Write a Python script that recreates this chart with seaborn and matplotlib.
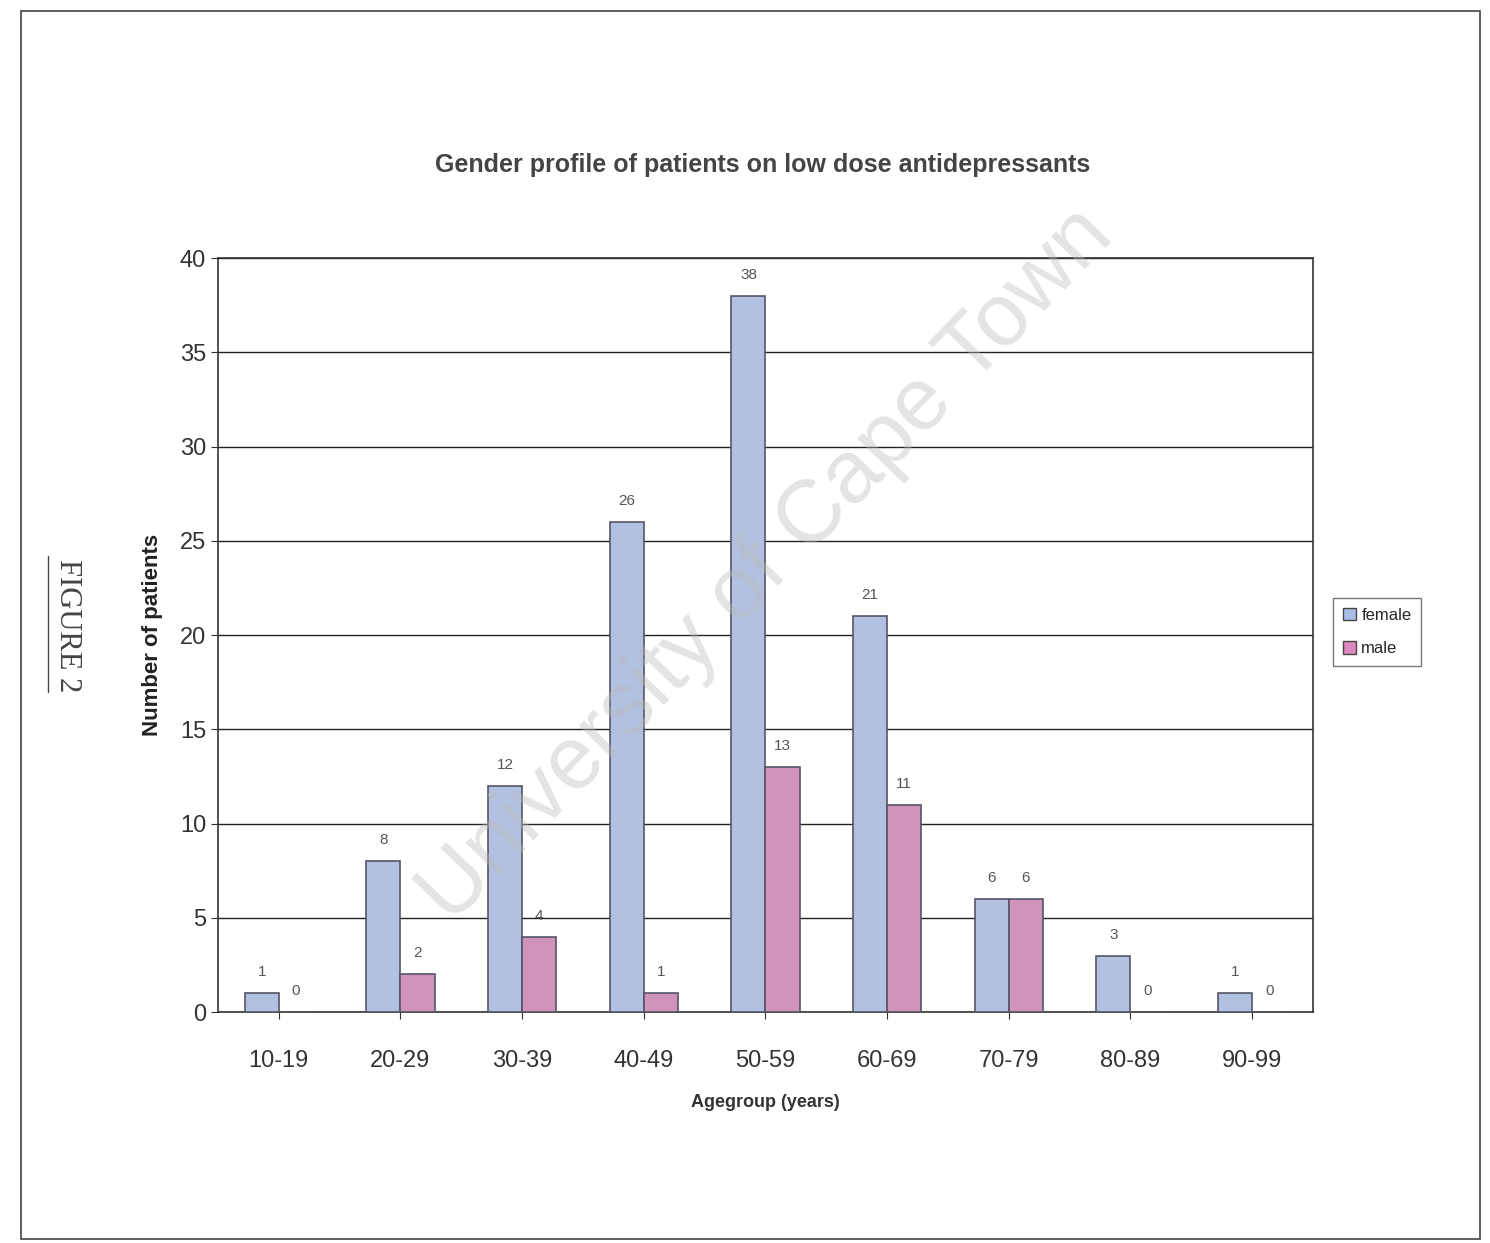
import matplotlib
matplotlib.use("Agg")
import matplotlib.pyplot as plt
import seaborn as sns
import pandas as pd
from matplotlib.patches import Rectangle, Patch

age_groups = ["10-19", "20-29", "30-39", "40-49", "50-59", "60-69", "70-79", "80-89", "90-99"]
female = [1, 8, 12, 26, 38, 21, 6, 3, 1]
male = [0, 2, 4, 1, 13, 11, 6, 0, 0]
series = ["female", "male"]
colors = ["#aabde9", "#db88c0"]

df = pd.DataFrame({
    "Agegroup": age_groups * 2,
    "count": female + male,
    "gender": ["female"] * len(age_groups) + ["male"] * len(age_groups),
})

sns.set_style("white")
plt.rcParams["font.family"] = ["Liberation Sans", "DejaVu Sans"]

fig = plt.figure(figsize=(14.9, 12.43), dpi=100)
ax = fig.add_axes([0.1463, 0.1858, 0.7349, 0.6066])

sns.barplot(data=df, x="Agegroup", y="count", hue="gender", hue_order=series,
            palette=colors, width=0.56, edgecolor="#555566", linewidth=1.2,
            ax=ax, legend=False, zorder=3)

ax.set_ylim(0, 40)
ax.set_xlim(-0.5, len(age_groups) - 0.5)
ax.set_yticks(range(0, 41, 5))
ax.yaxis.grid(True, color="#222222", linewidth=1.0, zorder=0)
ax.set_axisbelow(True)
for s in ax.spines.values():
    s.set_visible(True)
    s.set_color("#333333")
    s.set_linewidth(1.2)
ax.tick_params(axis="both", labelsize=17, colors="#333333", length=5, direction="out")
ax.tick_params(axis="y", left=True)
ax.tick_params(axis="x", bottom=True, pad=22)
ax.set_xlabel("Agegroup (years)", fontsize=13, fontweight="bold", color="#333333", labelpad=16)
ax.set_ylabel("Number of patients", fontsize=16, fontweight="bold", color="#222222", labelpad=12)

for cont in ax.containers:
    ax.bar_label(cont, labels=[f"{int(v.get_height())}" for v in cont], padding=10,
                 fontsize=11, color="#555555")

fig.text(0.512, 0.867, "Gender profile of patients on low dose antidepressants",
         ha="center", va="center", fontsize=18, fontweight="bold", color="#444444")

# legend
handles = [Patch(facecolor=c, edgecolor="#444444", label=l) for c, l in zip(colors, series)]
leg = fig.legend(handles=handles, loc="center left", bbox_to_anchor=(0.889, 0.4915),
                 fontsize=12, frameon=True, fancybox=False, edgecolor="#555555",
                 handlelength=0.8, handleheight=0.8, handletextpad=0.3, borderpad=0.6,
                 labelspacing=1.1)

# FIGURE 2 side label
fig.text(0.045, 0.497, "FIGURE 2", rotation=-90, ha="center", va="center",
         fontsize=22, family=["Liberation Serif", "DejaVu Serif"], color="#444444")
fig.add_artist(plt.Line2D([0.032, 0.032], [0.443, 0.553], color="#444444", linewidth=1.0,
                          transform=fig.transFigure))

# watermark
fig.text(0.515, 0.545, "University of Cape Town", rotation=46, ha="center", va="center",
         fontsize=64, color="#bbbbbb", alpha=0.4, zorder=10)

# outer frame
fig.add_artist(Rectangle((0.014, 0.003), 0.979, 0.988, transform=fig.transFigure,
                         fill=False, edgecolor="#444444", linewidth=1.2))

fig.savefig("out.png", dpi=100, facecolor="white")
